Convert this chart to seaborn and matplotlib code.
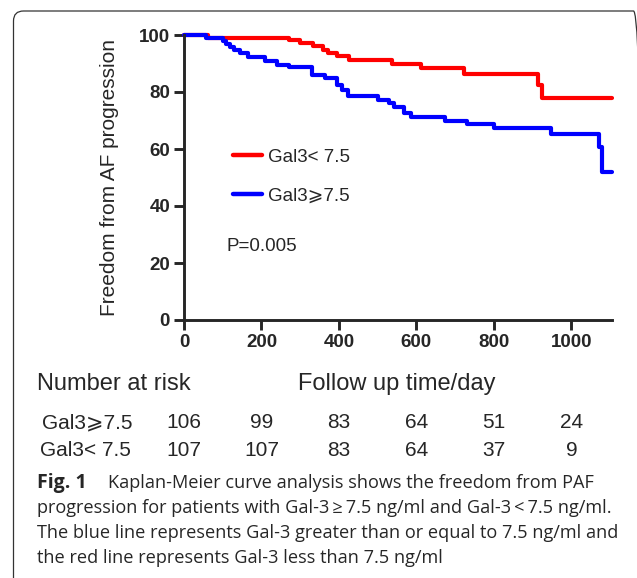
import matplotlib
matplotlib.use("Agg")
import matplotlib.pyplot as plt
import matplotlib.transforms as mtransforms
from matplotlib.patches import FancyBboxPatch
import pandas as pd
import seaborn as sns

# Kaplan-Meier steps (day, % free from progression)
LOW_DAYS = [0, 62, 270, 300, 333, 360, 372, 395, 425, 537, 613, 722, 915, 923, 1105]
LOW_SURV = [100, 99.1, 98.1, 97.2, 96.0, 94.9, 93.8, 92.6, 91.1, 89.9, 88.5, 86.3, 82.5, 77.8, 77.8]

HIGH_DAYS = [0, 58, 100, 108, 118, 128, 145, 165, 210, 240, 270, 331, 365, 395, 408, 424,
             502, 528, 541, 567, 585, 675, 731, 800, 947, 1071, 1078, 1105]
HIGH_SURV = [100, 98.8, 97.8, 96.8, 95.8, 94.7, 93.6, 92.4, 90.9, 89.6, 88.6, 86.0, 84.8, 82.5,
             80.6, 78.6, 77.2, 76.0, 74.6, 72.5, 71.1, 69.9, 68.8, 67.3, 65.3, 60.8, 51.8, 51.8]

GROUPS = ["Gal3< 7.5", "Gal3\u2A7E7.5"]
COLORS = {"Gal3< 7.5": "#ff0000", "Gal3\u2A7E7.5": "#0000ff"}

RISK_DAYS = [0, 200, 400, 600, 800, 1000]
RISK_HIGH = [106, 99, 83, 64, 51, 24]
RISK_LOW = [107, 107, 83, 64, 37, 9]

CAPTION = [
    "Kaplan-Meier curve analysis shows the freedom from PAF",
    "progression for patients with Gal-3\u2009\u2265\u20097.5 ng/ml and Gal-3\u2009<\u20097.5 ng/ml.",
    "The blue line represents Gal-3 greater than or equal to 7.5 ng/ml and",
    "the red line represents Gal-3 less than 7.5 ng/ml",
]

sns.set_style("ticks")
plt.rcParams["font.family"] = ["Liberation Sans", "DejaVu Sans"]

df = pd.concat([
    pd.DataFrame({"day": LOW_DAYS, "surv": LOW_SURV, "group": GROUPS[0]}),
    pd.DataFrame({"day": HIGH_DAYS, "surv": HIGH_SURV, "group": GROUPS[1]}),
])

W, H = 637, 578
fig = plt.figure(figsize=(W / 100, H / 100), dpi=100)
ax = fig.add_axes([184 / W, 1 - 320 / H, 428 / W, 285 / H])

sns.lineplot(data=df, x="day", y="surv", hue="group", hue_order=GROUPS, palette=COLORS,
             estimator=None, sort=False, drawstyle="steps-post", linewidth=3,
             ax=ax, clip_on=False)

ax.set_xlim(0, 1105)
ax.set_ylim(0, 100)
ax.set_xticks(RISK_DAYS)
ax.set_yticks([0, 20, 40, 60, 80, 100])
for s in ("top", "right"):
    ax.spines[s].set_visible(False)
for s in ("left", "bottom"):
    ax.spines[s].set_linewidth(2.1)
ax.tick_params(length=7, width=2.1, labelsize=13.5, pad=3)
for lab in ax.get_xticklabels() + ax.get_yticklabels():
    lab.set_fontweight("bold")
ax.set_xlabel("")
ax.set_ylabel("Freedom from AF progression", fontsize=15)
ax.yaxis.set_label_coords(-0.151, 0.5)

leg = ax.legend(loc="center left", bbox_to_anchor=(0.1145, 0.503), frameon=False, fontsize=13.5,
                handlelength=1.55, handletextpad=0.32, labelspacing=1.15, borderaxespad=0,
                borderpad=0)
for h in leg.get_lines():
    h.set_linewidth(3.2)

ax.text(0.1, 0.257, "P=0.005", transform=ax.transAxes, fontsize=13.5, va="center")

# number-at-risk table under the axis, aligned to the x ticks
blend = mtransforms.blended_transform_factory(ax.transData, fig.transFigure)
fig.text(37 / W, 1 - 384 / H, "Number at risk", fontsize=17, va="center")
fig.text(298 / W, 1 - 384 / H, "Follow up time/day", fontsize=17, va="center")
fig.text(42 / W, 1 - 423 / H, "Gal3\u2A7E7.5", fontsize=15, va="center")
fig.text(40 / W, 1 - 451 / H, "Gal3< 7.5", fontsize=15, va="center")
for d, nh, nl in zip(RISK_DAYS, RISK_HIGH, RISK_LOW):
    ax.text(d, 1 - 423 / H, str(nh), transform=blend, fontsize=15, ha="center", va="center")
    ax.text(d, 1 - 451 / H, str(nl), transform=blend, fontsize=15, ha="center", va="center")

# caption
cap_font = ["Open Sans", "DejaVu Sans"]
ys = [483, 508, 533, 558]
fig.text(37 / W, 1 - ys[0] / H, "Fig. 1", fontsize=14, fontweight="bold",
         family=cap_font, va="center")
fig.text(108 / W, 1 - ys[0] / H, CAPTION[0], fontsize=13.1, family=cap_font, va="center")
for y, line in zip(ys[1:], CAPTION[1:]):
    fig.text(37 / W, 1 - y / H, line, fontsize=13.1, family=cap_font, va="center")

# rounded frame around the figure panel
frame = FancyBboxPatch((0.135, -0.5), 6.3, 5.67 + 0.5, boxstyle="round,pad=0,rounding_size=0.1",
                       transform=fig.dpi_scale_trans, fill=False, edgecolor="#333333",
                       linewidth=0.9, clip_on=False)
fig.patches.append(frame)

fig.savefig("out.png", dpi=100)
